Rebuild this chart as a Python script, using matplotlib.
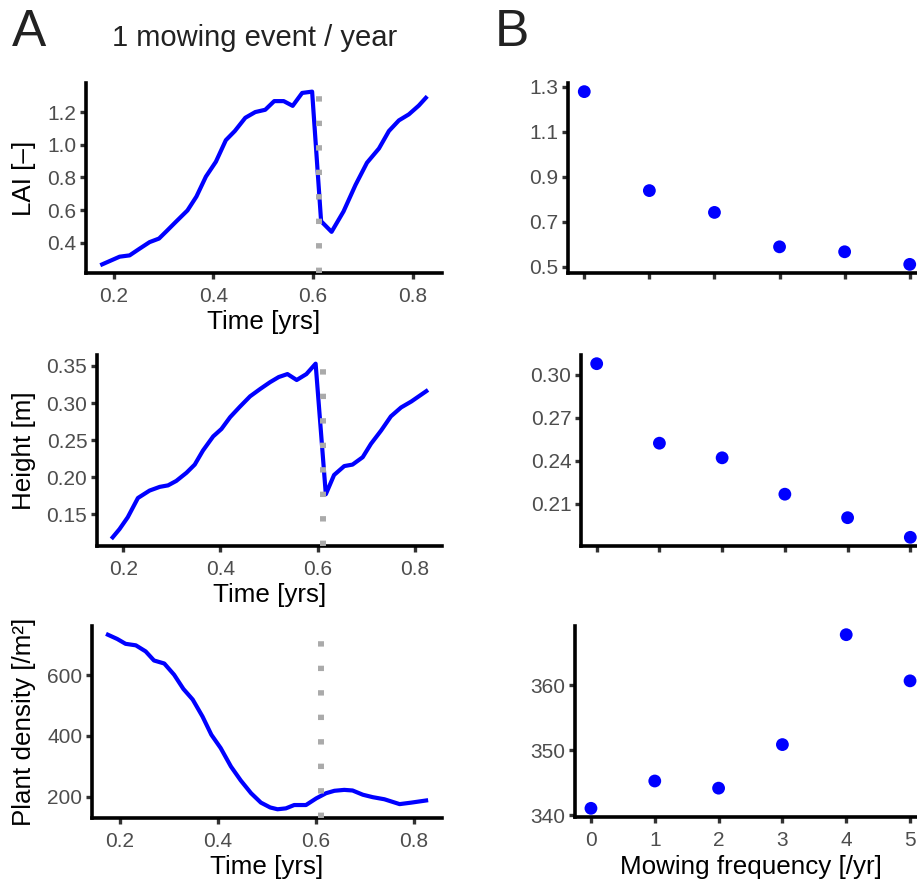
import matplotlib
matplotlib.use("Agg")
import matplotlib.pyplot as plt
import numpy as np

plt.rcParams['font.family'] = ['Liberation Sans', 'DejaVu Sans']

# ---- Panel A: time series for 1 mowing event per year ----
t_lai = [0.177, 0.212, 0.232, 0.252, 0.272, 0.291, 0.306, 0.326, 0.348, 0.366,
         0.385, 0.405, 0.425, 0.443, 0.464, 0.484, 0.504, 0.522, 0.541, 0.559,
         0.578, 0.598, 0.616, 0.637, 0.661, 0.685, 0.708, 0.732, 0.752, 0.772,
         0.792, 0.812, 0.826]
lai = [0.268, 0.315, 0.323, 0.364, 0.404, 0.426, 0.471, 0.532, 0.598, 0.683,
       0.805, 0.896, 1.028, 1.084, 1.165, 1.200, 1.214, 1.267, 1.267, 1.238,
       1.317, 1.325, 0.532, 0.467, 0.592, 0.754, 0.890, 0.977, 1.084, 1.149,
       1.186, 1.240, 1.287]

t_height = [0.178, 0.192, 0.209, 0.230, 0.254, 0.275, 0.292, 0.309, 0.330, 0.347,
            0.364, 0.385, 0.402, 0.420, 0.440, 0.461, 0.482, 0.502, 0.520, 0.538,
            0.557, 0.577, 0.596, 0.617, 0.634, 0.655, 0.672, 0.693, 0.710, 0.731,
            0.751, 0.772, 0.793, 0.824]
height = [0.119, 0.130, 0.146, 0.172, 0.182, 0.187, 0.189, 0.195, 0.206, 0.217,
          0.236, 0.255, 0.265, 0.281, 0.295, 0.309, 0.319, 0.328, 0.335, 0.339,
          0.331, 0.339, 0.353, 0.177, 0.203, 0.215, 0.217, 0.227, 0.245, 0.263,
          0.282, 0.294, 0.302, 0.316]

t_density = [0.176, 0.195, 0.212, 0.233, 0.253, 0.270, 0.291, 0.311, 0.330, 0.349,
             0.369, 0.387, 0.406, 0.427, 0.447, 0.468, 0.488, 0.507, 0.522, 0.539,
             0.556, 0.580, 0.601, 0.621, 0.638, 0.658, 0.675, 0.696, 0.716, 0.740,
             0.771, 0.795, 0.825]
density = [734, 720, 704, 699, 679, 649, 639, 602, 555, 520,
           464, 404, 360, 299, 253, 211, 180, 164, 158, 161,
           172, 172, 194, 211, 219, 222, 220, 206, 198, 191,
           175, 180, 187]

mowing_time = 0.611

# ---- Panel B: mean response vs mowing frequency ----
frequency = [0, 1, 2, 3, 4, 5]
mean_lai = [1.278, 0.838, 0.741, 0.588, 0.566, 0.510]
mean_height = [0.3076, 0.2521, 0.2419, 0.2165, 0.2001, 0.1864]
mean_density = [341.1, 345.3, 344.2, 350.9, 367.8, 360.7]

lai_ticks = [0.4, 0.6, 0.8, 1.0, 1.2]
height_ticks = [0.15, 0.20, 0.25, 0.30, 0.35]
density_ticks = [200, 400, 600]
time_ticks = [0.2, 0.4, 0.6, 0.8]
b_lai_ticks = [0.5, 0.7, 0.9, 1.1, 1.3]
b_height_ticks = [0.21, 0.24, 0.27, 0.30]
b_density_ticks = [340, 350, 360]

W, H = 917, 884
fig = plt.figure(figsize=(W / 100, H / 100), dpi=100)
fig.patch.set_facecolor('white')

TICK_FS = 15
TITLE_FS = 18.7


def add_axes(left, right, top, bottom):
    return fig.add_axes([left / W, 1 - bottom / H, (right - left) / W, (bottom - top) / H])


def expand(vals, mult=0.05):
    lo, hi = min(vals), max(vals)
    pad = (hi - lo) * mult
    return lo - pad, hi + pad


def style(ax):
    for s in ('top', 'right'):
        ax.spines[s].set_visible(False)
    for s in ('left', 'bottom'):
        ax.spines[s].set_linewidth(2.6)
        ax.spines[s].set_color('black')
        ax.spines[s].set_capstyle('projecting')
    ax.tick_params(axis='both', length=4, width=2.4, color='#333333',
                   labelsize=TICK_FS, labelcolor='#4d4d4d', pad=3)
    ax.tick_params(axis='x', pad=6)
    ax.set_facecolor('white')


BLUE = '#0000ff'
YLAB_X = 36 / W


def time_panel(ax, t, y, yticks, ylabel, fmt):
    ax.plot(t, y, color=BLUE, lw=3.0, solid_joinstyle='round', zorder=2)
    ax.axvline(mowing_time, color='#aaaaaa', lw=4.3, dashes=(0.9, 3.2),
               dash_capstyle='butt', zorder=3)
    ax.set_xlim(*expand(t))
    ax.set_ylim(*expand(y))
    ax.set_xticks(time_ticks)
    ax.set_xticklabels([f'{v:.1f}' for v in time_ticks])
    ax.set_yticks(yticks)
    ax.set_yticklabels([fmt.format(v) for v in yticks])
    ax.set_xlabel('Time [yrs]', fontsize=TITLE_FS, labelpad=3)
    ax.set_ylabel(ylabel, fontsize=TITLE_FS)
    style(ax)


def freq_panel(ax, y, yticks, fmt, show_x=False):
    ax.scatter(frequency, y, s=85, color=BLUE, edgecolors='none', zorder=3,
               clip_on=False)
    ax.set_xlim(-0.25, 5.25)
    ax.set_ylim(*expand(y))
    ax.set_xticks(frequency)
    if show_x:
        ax.set_xticklabels([str(v) for v in frequency])
        ax.set_xlabel('Mowing frequency [/yr]', fontsize=TITLE_FS, labelpad=4)
    else:
        ax.set_xticklabels([])
    ax.set_yticks(yticks)
    ax.set_yticklabels([fmt.format(v) for v in yticks])
    style(ax)


a1 = add_axes(86, 442, 83, 273)
a2 = add_axes(97, 442, 355, 546)
a3 = add_axes(92, 442, 626, 818)
b1 = add_axes(568, 926, 83, 273)
b2 = add_axes(581, 926, 355, 546)
b3 = add_axes(575, 926, 626, 817)

time_panel(a1, t_lai, lai, lai_ticks, 'LAI [–]', '{:.1f}')
time_panel(a2, t_height, height, height_ticks, 'Height [m]', '{:.2f}')
time_panel(a3, t_density, density, density_ticks, 'Plant density [/m²]', '{:.0f}')

freq_panel(b1, mean_lai, b_lai_ticks, '{:.1f}')
freq_panel(b2, mean_height, b_height_ticks, '{:.2f}')
freq_panel(b3, mean_density, b_density_ticks, '{:.0f}', show_x=True)

# y labels share one left margin, centred on their panels
for ax in (a1, a2, a3):
    pos = ax.get_position()
    ax.yaxis.set_label_coords(YLAB_X, pos.y0 + pos.height / 2, transform=fig.transFigure)

fig.text(12 / W, 1 - 45.7 / H, 'A', fontsize=37, color='#222222', va='baseline', ha='left')
fig.text(495 / W, 1 - 45.7 / H, 'B', fontsize=37, color='#222222', va='baseline', ha='left')
fig.text(255 / W, 1 - 45.7 / H, '1 mowing event / year', fontsize=21, color='#222222',
         va='baseline', ha='center')

fig.savefig('out.png', dpi=100, facecolor='white')
